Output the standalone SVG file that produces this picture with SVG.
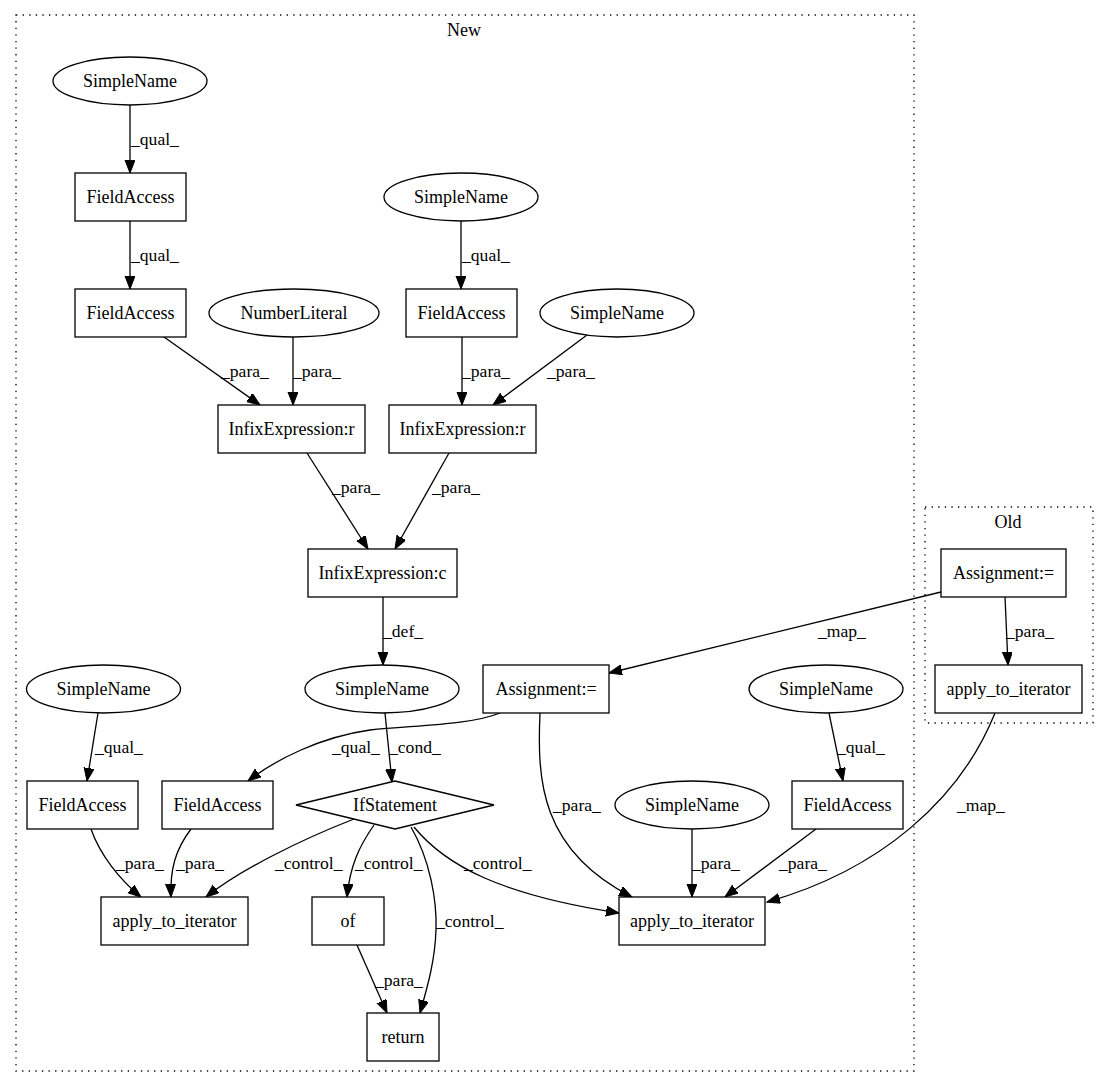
<svg xmlns="http://www.w3.org/2000/svg" width="1109" height="1088" viewBox="0 0 1109 1088">
<style>
text{font-family:"Liberation Serif","Times New Roman",serif;font-size:18px;fill:#000}
.n{text-anchor:middle}
.e{font-size:17.6px}
.cl{fill:none;stroke:#000;stroke-width:1.3;stroke-dasharray:1.3,5.3}
.s{fill:#fff;stroke:#000;stroke-width:1.3}
.c path{fill:none;stroke:#000;stroke-width:1.3;marker-end:url(#a)}
</style>
<defs>
<marker id="a" markerUnits="userSpaceOnUse" markerWidth="14" markerHeight="12" refX="13" refY="5" orient="auto">
<path d="M0,0 L13,5 L0,10 z" fill="#000" stroke="#000" stroke-width="1"/>
</marker>
</defs>
<rect width="1109" height="1088" fill="#fff"/>
<g id="cluster_new"><rect class="cl" x="16" y="15" width="898" height="1056"/><text class="n" x="464" y="36">New</text></g>
<g id="cluster_old"><rect class="cl" x="925" y="507" width="168" height="216"/><text class="n" x="1008" y="528">Old</text></g>

<g class="c" id="connectors">
<path d="M130,105 L130,173"/>
<path d="M130,221 L130,289"/>
<path d="M461,221 L461,289"/>
<path d="M164,337 L260,405"/>
<path d="M293,337 L293,405"/>
<path d="M462,337 L462,405"/>
<path d="M587,335 L493,405"/>
<path d="M307,453 L368,549"/>
<path d="M449,453 L395,549"/>
<path d="M383,597 L383,665"/>
<path d="M941,592 Q780,632 609,673"/>
<path d="M1005,597 L1008,665"/>
<path d="M98,713 L87,781"/>
<path d="M500,713 C470,725 420,725 370,730 C320,737 275,760 248,781"/>
<path d="M385,713 L392,782"/>
<path d="M829,713 L843,781"/>
<path d="M91,829 C100,855 120,880 141,897"/>
<path d="M191,829 C175,850 170,870 171,897"/>
<path d="M354,819 C300,840 240,870 206,897"/>
<path d="M374,825 C360,845 350,865 347,897"/>
<path d="M411,827 C430,860 437,900 436,930 C435,960 428,985 420,1013"/>
<path d="M357,945 L387,1013"/>
<path d="M414,827 C445,865 500,895 619,913"/>
<path d="M540,713 C537,780 540,850 632,897"/>
<path d="M692,829 L692,897"/>
<path d="M816,829 L725,897"/>
<path d="M995,713 C960,800 880,870 767,902"/>
</g>
<g id="edge_labels" class="e">
<text class="e" x="131" y="145">_qual_</text>
<text class="e" x="131" y="261">_qual_</text>
<text class="e" x="462" y="261">_qual_</text>
<text class="e" x="221" y="377">_para_</text>
<text class="e" x="293" y="377">_para_</text>
<text class="e" x="462" y="377">_para_</text>
<text class="e" x="547" y="377">_para_</text>
<text class="e" x="332" y="493">_para_</text>
<text class="e" x="432" y="493">_para_</text>
<text class="e" x="383" y="637">_def_</text>
<text class="e" x="818" y="637">_map_</text>
<text class="e" x="1006" y="637">_para_</text>
<text class="e" x="95" y="753">_qual_</text>
<text class="e" x="332" y="753">_qual_</text>
<text class="e" x="389" y="753">_cond_</text>
<text class="e" x="837" y="753">_qual_</text>
<text class="e" x="116" y="869">_para_</text>
<text class="e" x="176" y="869">_para_</text>
<text class="e" x="275" y="869">_control_</text>
<text class="e" x="355" y="869">_control_</text>
<text class="e" x="464" y="869">_control_</text>
<text class="e" x="692" y="869">_para_</text>
<text class="e" x="779" y="869">_para_</text>
<text class="e" x="436" y="927">_control_</text>
<text class="e" x="375" y="986">_para_</text>
<text class="e" x="553" y="811">_para_</text>
<text class="e" x="957" y="811">_map_</text>
</g>

<g id="sn1"><ellipse class="s" cx="130" cy="81" rx="77" ry="24"/><text class="n" x="130" y="87">SimpleName</text></g>
<g id="fa1"><rect class="s" x="75" y="173" width="111" height="48"/><text class="n" x="130.5" y="203">FieldAccess</text></g>
<g id="fa2"><rect class="s" x="75" y="289" width="111" height="48"/><text class="n" x="130.5" y="319">FieldAccess</text></g>
<g id="sn2"><ellipse class="s" cx="461" cy="197" rx="77" ry="24"/><text class="n" x="461" y="203">SimpleName</text></g>
<g id="nl"><ellipse class="s" cx="294" cy="313" rx="85" ry="24"/><text class="n" x="294" y="319">NumberLiteral</text></g>
<g id="fa3"><rect class="s" x="406" y="289" width="111" height="48"/><text class="n" x="461.5" y="319">FieldAccess</text></g>
<g id="sn3"><ellipse class="s" cx="617" cy="313" rx="77" ry="24"/><text class="n" x="617" y="319">SimpleName</text></g>
<g id="ir1"><rect class="s" x="218" y="405" width="147" height="48"/><text class="n" x="291.5" y="435">InfixExpression:r</text></g>
<g id="ir2"><rect class="s" x="389" y="405" width="147" height="48"/><text class="n" x="462.5" y="435">InfixExpression:r</text></g>
<g id="ic"><rect class="s" x="308" y="549" width="149" height="48"/><text class="n" x="382.5" y="579">InfixExpression:c</text></g>
<g id="assign_old"><rect class="s" x="941" y="549" width="125" height="48"/><text class="n" x="1003.5" y="579">Assignment:=</text></g>
<g id="apply_old"><rect class="s" x="935" y="665" width="147" height="48"/><text class="n" x="1008.5" y="695">apply_to_iterator</text></g>
<g id="sn4"><ellipse class="s" cx="103.5" cy="689" rx="77" ry="24"/><text class="n" x="103.5" y="695">SimpleName</text></g>
<g id="sn5"><ellipse class="s" cx="382" cy="689" rx="77" ry="24"/><text class="n" x="382" y="695">SimpleName</text></g>
<g id="assign_new"><rect class="s" x="483" y="665" width="126" height="48"/><text class="n" x="546" y="695">Assignment:=</text></g>
<g id="sn6"><ellipse class="s" cx="826" cy="689" rx="77" ry="24"/><text class="n" x="826" y="695">SimpleName</text></g>
<g id="fa4"><rect class="s" x="27" y="781" width="111" height="48"/><text class="n" x="82.5" y="811">FieldAccess</text></g>
<g id="fa5"><rect class="s" x="162" y="781" width="111" height="48"/><text class="n" x="217.5" y="811">FieldAccess</text></g>
<g id="if"><polygon class="s" points="296,805 395,781 494,805 395,829"/><text class="n" x="395" y="811">IfStatement</text></g>
<g id="sn7"><ellipse class="s" cx="692" cy="805" rx="77" ry="24"/><text class="n" x="692" y="811">SimpleName</text></g>
<g id="fa6"><rect class="s" x="792" y="781" width="111" height="48"/><text class="n" x="847.5" y="811">FieldAccess</text></g>
<g id="apply_l"><rect class="s" x="101" y="897" width="147" height="48"/><text class="n" x="174.5" y="927">apply_to_iterator</text></g>
<g id="of"><rect class="s" x="312" y="897" width="72" height="48"/><text class="n" x="348" y="927">of</text></g>
<g id="apply_r"><rect class="s" x="619" y="897" width="146" height="48"/><text class="n" x="692" y="927">apply_to_iterator</text></g>
<g id="ret"><rect class="s" x="367" y="1013" width="72" height="48"/><text class="n" x="403" y="1043">return</text></g>
</svg>
